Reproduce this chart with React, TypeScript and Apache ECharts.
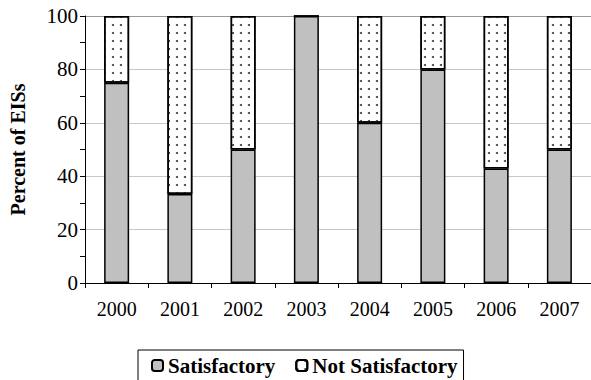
import React, { useEffect, useRef } from "react";
import * as echarts from "echarts";

// Share of EISs rated satisfactory vs. not satisfactory, per year
const years = ["2000", "2001", "2002", "2003", "2004", "2005", "2006", "2007"];
const satisfactory = [75, 33.3, 50, 100, 60, 80, 42.9, 50];
const notSatisfactory = [25, 66.7, 50, 0, 40, 20, 57.1, 50];
const seriesNames = ["Satisfactory", "Not Satisfactory"];

const FONT = "Liberation Serif";

export default function App() {
  const ref = useRef<HTMLDivElement>(null);

  useEffect(() => {
    if (!ref.current) return;
    const chart = echarts.init(ref.current, undefined, { renderer: "svg" });
    chart.setOption({
      animation: false,
      backgroundColor: "#fff",
      textStyle: { fontFamily: FONT },
      grid: { left: 82, right: 0, top: 16, bottom: 97, containLabel: false },
      legend: {
        left: 138,
        top: 350,
        data: seriesNames,
        itemWidth: 11,
        itemHeight: 11,
        itemGap: 20,
        padding: [5, 6, 10, 13],
        borderColor: "#000",
        borderWidth: 1,
        textStyle: {
          fontFamily: FONT,
          fontSize: 21,
          fontWeight: "bold",
          color: "#000",
        },
      },
      xAxis: {
        type: "category",
        data: years,
        axisLine: { lineStyle: { color: "#000", width: 1 } },
        axisTick: { show: true, length: 5, lineStyle: { color: "#000" } },
        axisLabel: { fontFamily: FONT, fontSize: 20, color: "#000", margin: 16 },
      },
      yAxis: {
        type: "value",
        min: 0,
        max: 100,
        interval: 20,
        name: "Percent of EISs",
        nameLocation: "middle",
        nameGap: 57,
        nameTextStyle: {
          fontFamily: FONT,
          fontSize: 20,
          fontWeight: "bold",
          color: "#000",
        },
        axisLine: { show: true, lineStyle: { color: "#000", width: 1 } },
        axisTick: { show: true, length: 5, lineStyle: { color: "#000" } },
        minorTick: { show: true, splitNumber: 2, length: 5, lineStyle: { color: "#000" } },
        axisLabel: { fontFamily: FONT, fontSize: 21, color: "#000", margin: 7 },
        splitLine: {
          show: true,
          lineStyle: {
            color: ["#c8c8c8", "#c8c8c8", "#c8c8c8", "#c8c8c8", "#c8c8c8", "#999"],
            width: 1,
          },
        },
      },
      series: [
        {
          name: seriesNames[0],
          type: "bar",
          stack: "total",
          barWidth: 25,
          data: satisfactory,
          itemStyle: { color: "#c0c0c0", borderColor: "#000", borderWidth: 1.5 },
        },
        {
          name: seriesNames[1],
          type: "bar",
          stack: "total",
          barWidth: 25,
          data: notSatisfactory,
          itemStyle: {
            color: "#fff",
            borderColor: "#000",
            borderWidth: 1.5,
            decal: {
              symbol: "circle",
              symbolSize: 1,
              color: "#333",
              dashArrayX: [2, 5.7],
              dashArrayY: [2, 5.7],
              rotation: 0,
            },
          },
        },
      ],
    });
    return () => chart.dispose();
  }, []);

  return (
    <div
      ref={ref}
      style={{ position: "fixed", left: 0, top: 0, width: 591, height: 380, background: "#fff" }}
    />
  );
}
